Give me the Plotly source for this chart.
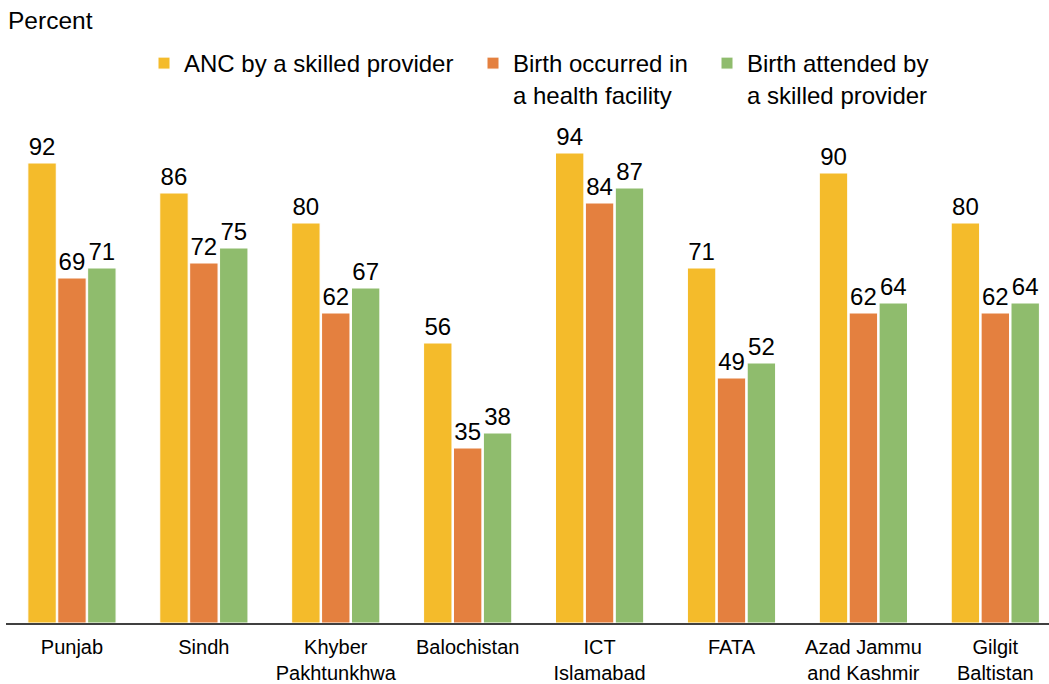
import plotly.graph_objects as go

categories = ["Punjab", "Sindh", "Khyber<br>Pakhtunkhwa", "Balochistan", "ICT<br>Islamabad",
              "FATA", "Azad Jammu<br>and Kashmir", "Gilgit<br>Baltistan"]
anc_skilled = [92, 86, 80, 56, 94, 71, 90, 80]
birth_facility = [69, 72, 62, 35, 84, 49, 62, 62]
birth_attended = [71, 75, 67, 38, 87, 52, 64, 64]

series_names = ["ANC by a skilled provider", "Birth occurred in<br>a health facility",
                "Birth attended by<br>a skilled provider"]
series_values = [anc_skilled, birth_facility, birth_attended]
colors = ["#F4BB2B", "#E4803F", "#8FBC6D"]
legend_ids = ["legend", "legend2", "legend3"]
legend_x_px = [144, 473, 707]

FONT = "Arial, Liberation Sans, sans-serif"
W, H = 1049, 684

fig = go.Figure()
for name, vals, col, lg in zip(series_names, series_values, colors, legend_ids):
    fig.add_trace(go.Bar(
        x=categories, y=vals, name=name, legend=lg,
        marker=dict(color=col, line=dict(color="white", width=1)),
        text=[str(v) for v in vals], textposition="outside",
        textfont=dict(size=24, color="#000000", family=FONT),
        constraintext="none", cliponaxis=False,
    ))

legend_common = dict(
    orientation="h", xref="container", yref="container",
    xanchor="left", y=1 - 41 / H, yanchor="top",
    font=dict(size=24, family=FONT, color="#000000"),
    valign="top", bgcolor="rgba(0,0,0,0)",
)

fig.update_layout(
    width=W, height=H,
    margin=dict(l=6, r=0, t=123, b=61),
    paper_bgcolor="white", plot_bgcolor="white",
    barmode="group", bargap=0.32, bargroupgap=0.05,
    font=dict(family=FONT, size=20, color="#000000"),
    showlegend=True,
    legend=dict(x=legend_x_px[0] / W, **legend_common),
    legend2=dict(x=legend_x_px[1] / W, **legend_common),
    legend3=dict(x=legend_x_px[2] / W, **legend_common),
    xaxis=dict(
        range=[-0.5, 7.407], showline=True, linecolor="#404040", linewidth=1.5,
        ticks="", showgrid=False, automargin=False, ticklabelstandoff=5,
        tickfont=dict(size=20, family=FONT, color="#000000"),
    ),
    yaxis=dict(range=[0, 100], visible=False, showgrid=False, zeroline=False,
               automargin=False),
    annotations=[dict(
        text="Percent", xref="paper", yref="paper", x=0.0, y=1.206,
        xanchor="left", yanchor="middle", showarrow=False,
        font=dict(size=24.5, family=FONT, color="#000000"),
    )],
)

fig.write_html("out.html", config={"displayModeBar": False},
               post_script="document.body.style.margin='0';document.body.style.overflow='hidden';")
